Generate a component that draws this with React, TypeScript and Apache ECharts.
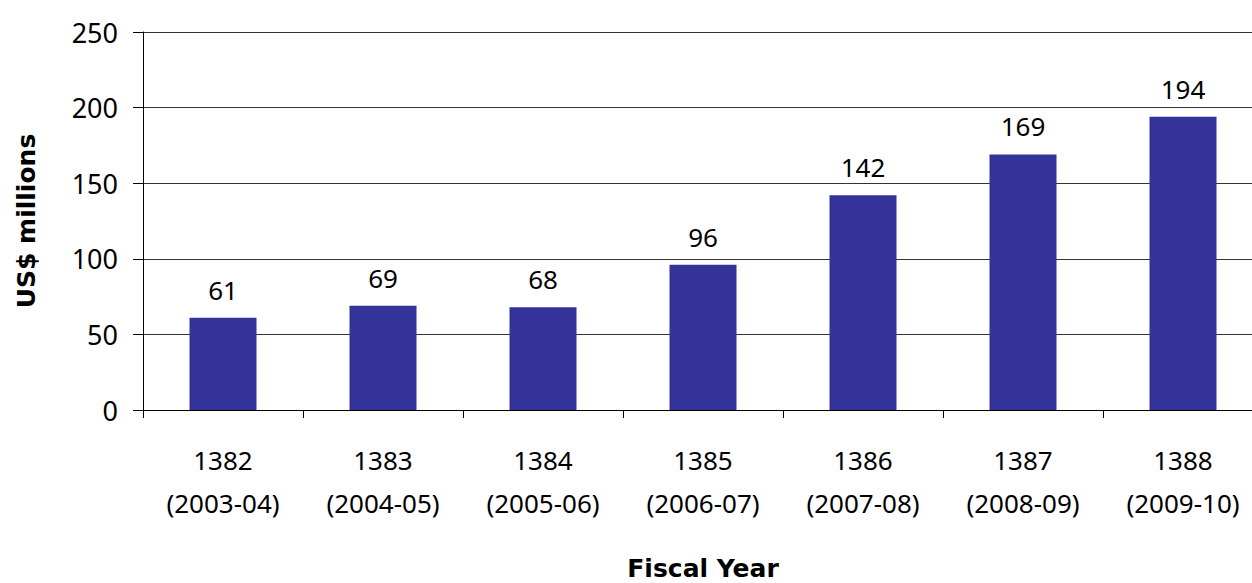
import React, { useEffect, useRef } from "react";
import * as echarts from "echarts";

const fiscalYears = ["1382", "1383", "1384", "1385", "1386", "1387", "1388"];
const gregorianYears = ["2003-04", "2004-05", "2005-06", "2006-07", "2007-08", "2008-09", "2009-10"];
const values = [61, 69, 68, 96, 142, 169, 194];
const yTicks = { min: 0, max: 250, interval: 50 };

const FONT = "'Noto Sans', 'DejaVu Sans', sans-serif";
const TITLE_FONT = "'DejaVu Sans', Verdana, sans-serif";

export default function App() {
  const ref = useRef<HTMLDivElement>(null);
  useEffect(() => {
    if (!ref.current) return;
    const chart = echarts.init(ref.current, undefined, { renderer: "svg" });
    const categories = fiscalYears.map((f, i) => `${f}\n(${gregorianYears[i]})`);
    chart.setOption({
      animation: false,
      backgroundColor: "#ffffff",
      textStyle: { fontFamily: FONT },
      grid: { left: 143, width: 1120, top: 32, height: 378, containLabel: false, outerBoundsMode: "none" },
      xAxis: {
        type: "category",
        data: categories,
        boundaryGap: true,
        name: "Fiscal Year",
        nameLocation: "middle",
        nameGap: 146,
        nameTextStyle: { fontFamily: TITLE_FONT, fontSize: 25, fontWeight: "bold", color: "#000" },
        axisLine: { show: true, lineStyle: { color: "#000", width: 1 } },
        axisTick: { show: true, alignWithLabel: false, length: 8, lineStyle: { color: "#000" } },
        axisLabel: {
          interval: 0,
          margin: 28,
          fontFamily: FONT,
          fontSize: 26,
          lineHeight: 43,
          color: "#000",
        },
      },
      yAxis: {
        type: "value",
        min: yTicks.min,
        max: yTicks.max,
        interval: yTicks.interval,
        name: "US$ millions",
        nameLocation: "middle",
        nameGap: 104,
        nameRotate: 90,
        nameTextStyle: { fontFamily: TITLE_FONT, fontSize: 25, fontWeight: "bold", color: "#000" },
        axisLine: { show: true, lineStyle: { color: "#000", width: 1 } },
        axisTick: { show: true, length: 10, inside: false, lineStyle: { color: "#000" } },
        axisLabel: { margin: 25, fontFamily: FONT, fontSize: 27, color: "#000" },
        splitLine: { show: true, lineStyle: { color: "#333", width: 1 } },
      },
      series: [
        {
          type: "bar",
          data: values,
          barWidth: 67,
          itemStyle: { color: "#333399" },
          label: {
            show: true,
            position: "top",
            distance: 15,
            fontFamily: FONT,
            fontSize: 26,
            color: "#000",
          },
        },
      ],
    });
    return () => chart.dispose();
  }, []);
  return (
    <div style={{ position: "fixed", left: 0, top: 0, width: 1252, height: 583, overflow: "hidden", background: "#fff" }}>
      <div ref={ref} style={{ width: 1280, height: 583 }} />
    </div>
  );
}
